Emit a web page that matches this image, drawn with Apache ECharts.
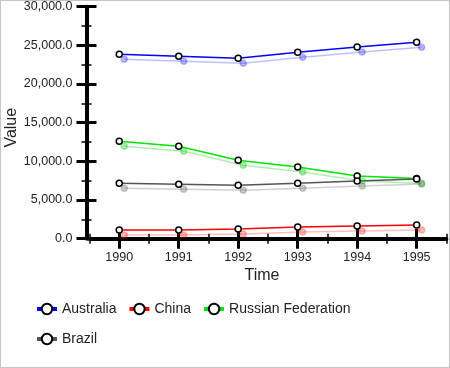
<!DOCTYPE html>
<html>
<head>
<meta charset="utf-8">
<script src="https://cdn.jsdelivr.net/npm/echarts@6/dist/echarts.min.js"></script>
<style>
html,body{margin:0;padding:0;background:#fff;}
#chart{position:absolute;left:0;top:0;width:450px;height:368px;}
#frame{position:absolute;left:0;top:0;width:450px;height:368px;box-sizing:border-box;border:1px solid #c4c4c4;pointer-events:none;}
</style>
</head>
<body>
<div id="chart"></div>
<div id="frame"></div>
<script>
const years = ['1990', '1991', '1992', '1993', '1994', '1995'];
const australia = [23850, 23590, 23330, 24100, 24790, 25400];
const china = [1120, 1120, 1250, 1510, 1640, 1770];
const russia = [12600, 11950, 10140, 9270, 8100, 7800];
const brazil = [7160, 7030, 6900, 7160, 7460, 7720];
const seriesNames = ['Australia', 'China', 'Russian Federation', 'Brazil'];
const yTicks = {min: 0, max: 30000, interval: 5000};

const colors = ['#0000ff', '#ff0000', '#00e600', '#555555'];
const shadows = ['rgba(0,0,255,0.25)', 'rgba(255,0,0,0.25)', 'rgba(0,200,0,0.3)', 'rgba(85,85,85,0.28)'];
const font = 'Liberation Sans, Arial, Helvetica, sans-serif';
const txt = '#222';

const chart = echarts.init(document.getElementById('chart'), null, {renderer: 'canvas'});

function mkSeries(name, data, i) {
  return {
    name: name, type: 'line', data: data,
    xAxisIndex: 0, yAxisIndex: 0,
    symbol: 'circle', symbolSize: 6,
    lineStyle: {color: colors[i], width: 1.5, shadowColor: shadows[i], shadowOffsetX: 5, shadowOffsetY: 5, shadowBlur: 0},
    itemStyle: {color: '#fff', borderColor: '#000', borderWidth: 1.5, shadowColor: shadows[i], shadowOffsetX: 5, shadowOffsetY: 5, shadowBlur: 0},
    emphasis: {disabled: true},
    animation: false
  };
}

const baseX = {
  type: 'category', data: years, position: 'bottom', boundaryGap: true,
  axisLine: {show: false, onZero: false},
  axisLabel: {show: false},
  splitLine: {show: false}
};
const baseY = {
  type: 'value', position: 'left', offset: 3,
  min: yTicks.min, max: yTicks.max, interval: yTicks.interval,
  splitLine: {show: false}
};

chart.setOption({
  animation: false,
  backgroundColor: '#fff',
  textStyle: {fontFamily: font},
  grid: {left: 89.5, right: 3.6, top: 6.7, bottom: 368 - 238.7, containLabel: false, outerBoundsMode: 'none'},
  legend: {
    left: 35, top: 299.5, width: 330, padding: 0,
    itemGap: 11, itemWidth: 20, itemHeight: 13,
    lineStyle: {width: 4},
    textStyle: {fontSize: 14, color: txt, fontFamily: font, lineHeight: 19},
    data: seriesNames
  },
  xAxis: [
    Object.assign({}, baseX, {
      axisLine: {show: true, onZero: false, lineStyle: {color: '#000', width: 4}},
      axisTick: {show: true, alignWithLabel: true, interval: 0, length: 10, lineStyle: {color: '#000', width: 3}},
      axisLabel: {show: true, interval: 0, margin: 12, fontSize: 12.5, color: txt, fontFamily: font},
      name: 'Time', nameLocation: 'middle', nameGap: 29, nameMoveOverlap: false,
      nameTextStyle: {fontSize: 16, color: txt, fontFamily: font, padding: [0, 12, 0, 0]}
    }),
    Object.assign({}, baseX, {
      axisTick: {show: true, inside: true, alignWithLabel: true, interval: 0, length: 10, lineStyle: {color: '#000', width: 3}}
    }),
    Object.assign({}, baseX, {
      axisTick: {show: true, alignWithLabel: false, interval: 0, length: 5, lineStyle: {color: '#000', width: 1.5}}
    }),
    Object.assign({}, baseX, {
      axisTick: {show: true, inside: true, alignWithLabel: false, interval: 0, length: 5, lineStyle: {color: '#000', width: 1.5}}
    })
  ],
  yAxis: [
    Object.assign({}, baseY, {
      axisLine: {show: true, lineStyle: {color: '#000', width: 4}},
      axisTick: {show: true, length: 10, lineStyle: {color: '#000', width: 3}},
      minorTick: {show: true, splitNumber: 2, length: 5, lineStyle: {color: '#000', width: 1.5}},
      axisLabel: {
        show: true, margin: 14, fontSize: 12.5, color: txt, fontFamily: font,
        formatter: v => v.toLocaleString('en-US', {minimumFractionDigits: 1, maximumFractionDigits: 1})
      },
      name: 'Value', nameLocation: 'middle', nameGap: 67, nameMoveOverlap: false,
      nameTextStyle: {fontSize: 16, color: txt, fontFamily: font, padding: [0, 10, 0, 0]}
    }),
    Object.assign({}, baseY, {
      axisLine: {show: false},
      axisLabel: {show: false},
      axisTick: {show: true, inside: true, length: 10, lineStyle: {color: '#000', width: 3}},
      minorTick: {show: true, splitNumber: 2, length: 5, lineStyle: {color: '#000', width: 1.5}}
    })
  ],
  series: [
    mkSeries(seriesNames[0], australia, 0),
    mkSeries(seriesNames[1], china, 1),
    mkSeries(seriesNames[2], russia, 2),
    mkSeries(seriesNames[3], brazil, 3)
  ]
});
</script>
</body>
</html>
